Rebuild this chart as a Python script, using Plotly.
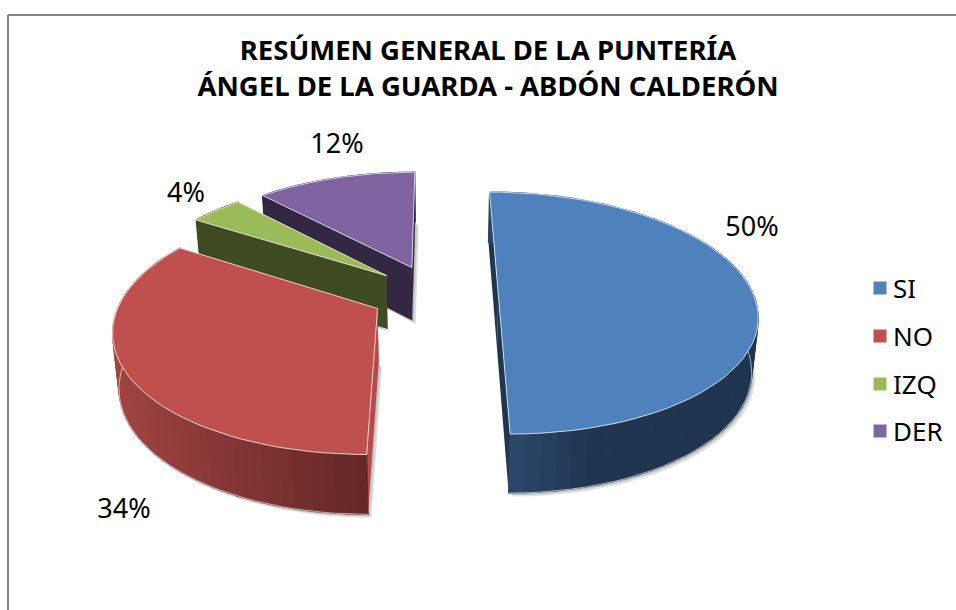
import numpy as np
import plotly.graph_objects as go

# Shares of each answer, in percent
categories = ["SI", "NO", "IZQ", "DER"]
percent = [50, 34, 4, 12]

top_colors = ["#4F81BD", "#C0504D", "#9BBB59", "#8064A2"]
wall_near = ["#2E4A6E", "#652826", "#3F4B22", "#332744"]   # wall shade at the 180 degree end
wall_far = ["#1F3550", "#A04542", "#3F4B22", "#332744"]    # wall shade further round
cut_colors = ["#1F3550", "#B54A47", "#3F4B22", "#332744"]

title_lines = ["RESÚMEN GENERAL DE LA PUNTERÍA", "ÁNGEL DE LA GUARDA - ABDÓN CALDERÓN"]
label_xy = [(752, 229), (124, 511), (186, 195), (337, 146)]
legend_y = [288, 336, 384, 431]

# Perspective camera for the tilted disc, in pixels
CX, CY, FX, FY, PERSP = 434.5, 294.0, 255.0, 118.0, 0.1575
EXPLODE = 0.25
FONT = "Noto Sans"


def project(X, Y):
    w = 1 + PERSP * Y
    return CX + FX * X / w, CY - FY * Y / w


def drop(x, y):
    """Lower rim of the disc under a point of its upper face."""
    return x + (CX - x) * 0.02, y + 53 + 0.036 * (y - 267)


def hex_mix(a, b, k):
    ca = [int(a[i:i + 2], 16) for i in (1, 3, 5)]
    cb = [int(b[i:i + 2], 16) for i in (1, 3, 5)]
    return "rgb(%d,%d,%d)" % tuple(round(p + (q - p) * k) for p, q in zip(ca, cb))


fig = go.Figure()


def poly(x, y, fill, line="rgba(0,0,0,0)", width=0):
    fig.add_trace(go.Scatter(
        x=np.append(x, x[0]), y=np.append(y, y[0]), mode="lines", fill="toself",
        fillcolor=fill, line=dict(color=line, width=width),
        hoverinfo="skip", showlegend=False))


def outline(x, y, color, width=1.0):
    fig.add_trace(go.Scatter(x=x, y=y, mode="lines", line=dict(color=color, width=width),
                             hoverinfo="skip", showlegend=False))


# Slice angles run clockwise from the far side of the disc
ends = np.cumsum(percent) * 3.6
starts = ends - np.array(percent) * 3.6

# Farthest slices first so nearer ones overlap them
for i in [3, 2, 1, 0]:
    a0, a1 = np.radians(starts[i]), np.radians(ends[i])
    mid = (a0 + a1) / 2
    ox, oy = EXPLODE * np.sin(mid), EXPLODE * np.cos(mid)
    t = np.linspace(a0, a1, 61)
    ax, ay = project(np.array([ox]), np.array([oy]))
    rx, ry = project(ox + np.sin(t), oy + np.cos(t))
    bx, by = drop(rx, ry)
    dax, day = drop(ax, ay)

    # Soft shadow under the lower rim
    for off in (3.5, 2.0):
        poly(np.r_[dax + off, bx + off], np.r_[day + off, by + off], "rgba(70,70,70,0.16)")

    # The two cut faces
    for k in (0, -1):
        poly(np.r_[ax, rx[k], bx[k], dax], np.r_[ay, ry[k], by[k], day], cut_colors[i])

    # Outer wall, shaded in narrow strips away from the end nearest the viewer
    near_x = rx[np.argmin(np.cos(t))]
    span = 90 if i == 0 else abs(near_x - rx.min())
    for s in range(len(t) - 1):
        k = min(1.0, abs(rx[s] - near_x) / span)
        col = hex_mix(wall_near[i], wall_far[i], k)
        poly(np.r_[rx[s:s + 2], bx[s:s + 2][::-1]], np.r_[ry[s:s + 2], by[s:s + 2][::-1]],
             col, col, 1.2)

    # Pale highlight along the visible part of the lower rim
    if percent[i] >= 34:
        near = np.cos(t) < 0.1
        outline(bx[near], by[near], "rgba(255,255,255,0.6)", 1)

    # Upper face
    poly(np.r_[ax, rx], np.r_[ay, ry], top_colors[i], "rgba(255,255,255,0.75)", 1)

# Value labels
fig.add_trace(go.Scatter(
    x=[p[0] for p in label_xy], y=[p[1] for p in label_xy], mode="text",
    text=[f"{v}%" for v in percent], textposition="middle center",
    textfont=dict(family=FONT, size=27, color="#000000"),
    hoverinfo="skip", showlegend=False))

# Key at the right of the chart
fig.add_trace(go.Scatter(
    x=[880] * len(categories), y=legend_y, mode="markers",
    marker=dict(symbol="square", size=13, color=top_colors, line=dict(width=0)),
    hoverinfo="skip", showlegend=False))
fig.add_trace(go.Scatter(
    x=[893] * len(categories), y=[y + 3 for y in legend_y], mode="text", text=categories,
    textposition="middle right", textfont=dict(family=FONT, size=26, color="#000000"),
    hoverinfo="skip", showlegend=False))

frame = dict(type="line", xref="paper", yref="paper", line=dict(color="#868686", width=2))
fig.update_layout(
    width=956, height=610, autosize=False,
    margin=dict(l=0, r=0, t=0, b=0),
    paper_bgcolor="#FFFFFF", plot_bgcolor="#FFFFFF",
    showlegend=False,
    title=dict(text="<br>".join(title_lines), x=488 / 956, xanchor="center",
               y=1 - 60 / 610, yanchor="top",
               font=dict(family=FONT, size=27.5, color="#000000", weight="bold")),
    xaxis=dict(range=[0, 956], visible=False, fixedrange=True),
    yaxis=dict(range=[610, 0], visible=False, fixedrange=True),
    shapes=[
        dict(frame, x0=8 / 956, x1=8 / 956, y0=0, y1=1 - 15 / 610),
        dict(frame, x0=8 / 956, x1=1, y0=1 - 15 / 610, y1=1 - 15 / 610),
    ],
)

fig.write_html("out.html")
